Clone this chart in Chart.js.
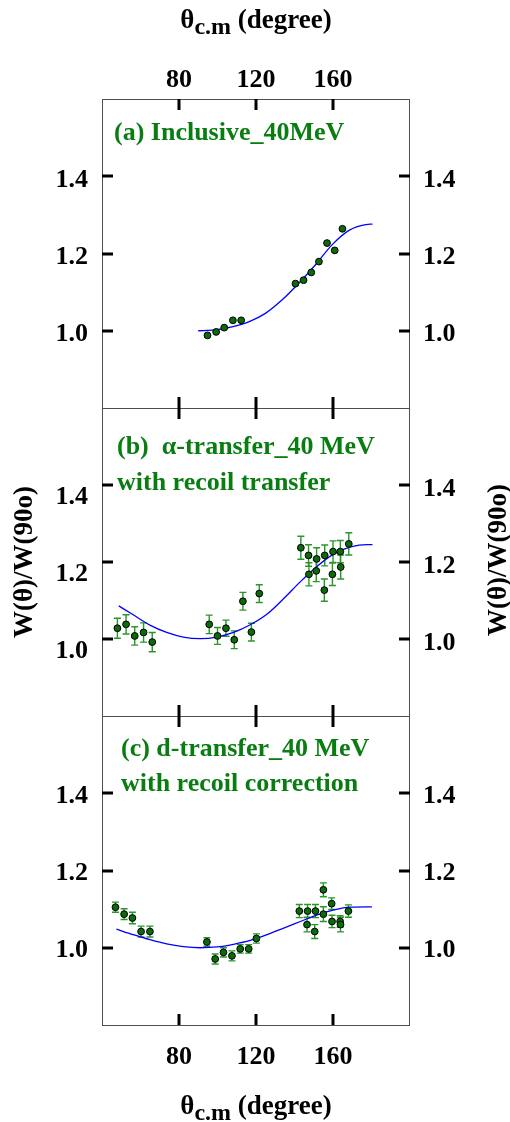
<!DOCTYPE html>
<html>
<head>
<meta charset="utf-8">
<script src="https://cdn.jsdelivr.net/npm/chart.js@4.4.1/dist/chart.umd.min.js"></script>
<style>
  html, body { margin: 0; padding: 0; background: #fff; }
  #wrap { position: relative; width: 510px; height: 1122px; overflow: hidden; }
  #wrap canvas { position: absolute; left: 0; top: 0; }
</style>
</head>
<body>
<div id="wrap">
  <canvas id="c1" width="510" height="1122"></canvas>
  <canvas id="c2" width="510" height="1122"></canvas>
  <canvas id="c3" width="510" height="1122"></canvas>
</div>
<script>
// ---------------- data ----------------
const xTicks = [80, 120, 160];
const yTicks = [1.0, 1.2, 1.4];

// (a) Inclusive_40MeV
const aAngles = [94.8, 99.3, 103.5, 108.0, 112.3, 140.5, 144.7, 148.7, 152.7, 156.9, 160.9, 164.9];
const aValues = [0.988, 0.997, 1.008, 1.027, 1.027, 1.122, 1.131, 1.151, 1.179, 1.227, 1.208, 1.264];
const aFitAngles = [90, 98.8, 107.5, 116.2, 124.9, 133.6, 142.2, 150.9, 159.6, 168.3, 177, 180.5];
const aFitValues = [1.000, 1.002, 1.010, 1.023, 1.045, 1.080, 1.123, 1.171, 1.223, 1.260, 1.275, 1.276];

// (b) alpha-transfer_40 MeV
const bAngles = [48.0, 52.5, 57.0, 61.6, 66.1, 95.7, 100.0, 104.4, 108.7, 113.2, 117.6, 121.7,
                 143.3, 147.3, 147.5, 151.5, 151.3, 155.7, 155.5, 160.0, 159.7, 163.8, 164.0, 168.2];
const bValues = [1.028, 1.038, 1.008, 1.017, 0.992, 1.038, 1.008, 1.028, 0.998, 1.098, 1.018, 1.118,
                 1.237, 1.217, 1.168, 1.208, 1.177, 1.217, 1.127, 1.227, 1.168, 1.227, 1.187, 1.247];
const bErrors = [0.026, 0.025, 0.024, 0.025, 0.025, 0.024, 0.022, 0.021, 0.023, 0.023, 0.023, 0.023,
                 0.030, 0.028, 0.030, 0.029, 0.028, 0.027, 0.029, 0.028, 0.029, 0.029, 0.031, 0.029];
const bFitAngles = [48.7, 56.2, 64.9, 73.6, 82.2, 91, 99.7, 108.3, 117, 125.8, 134.4, 143.1, 151.8, 160.5, 169.2, 177.9, 180.5];
const bFitValues = [1.086, 1.063, 1.036, 1.017, 1.005, 1.001, 1.005, 1.017, 1.037, 1.065, 1.105, 1.149, 1.189, 1.221, 1.239, 1.245, 1.245];

// (c) d-transfer_40 MeV
const cAngles = [47.0, 51.5, 55.8, 60.3, 64.9, 94.5, 98.8, 103.1, 107.5, 111.8, 116.2, 120.2,
                 142.5, 146.8, 146.5, 150.9, 150.5, 155.0, 155.0, 159.3, 159.5, 163.7, 163.9, 168.0];
const cValues = [1.105, 1.087, 1.077, 1.042, 1.042, 1.015, 0.971, 0.988, 0.979, 0.997, 0.997, 1.024,
                 1.095, 1.095, 1.060, 1.095, 1.042, 1.150, 1.087, 1.114, 1.068, 1.068, 1.060, 1.095];
const cErrors = [0.013, 0.014, 0.015, 0.014, 0.014, 0.011, 0.013, 0.012, 0.013, 0.011, 0.011, 0.012,
                 0.017, 0.017, 0.019, 0.017, 0.018, 0.018, 0.019, 0.015, 0.016, 0.015, 0.019, 0.016];
const cFitAngles = [47.5, 56.2, 64.9, 73.6, 82.2, 91, 99.7, 108.3, 117, 125.8, 134.4, 143.1, 151.8, 160.5, 169.2, 180.2];
const cFitValues = [1.048, 1.034, 1.021, 1.010, 1.003, 1.000, 1.002, 1.009, 1.019, 1.034, 1.051, 1.068, 1.085, 1.098, 1.105, 1.106];

const panelLabels = {
  a: ['(a) Inclusive_40MeV'],
  b: ['(b)  \u03b1-transfer_40 MeV', 'with recoil transfer'],
  c: ['(c) d-transfer_40 MeV', 'with recoil correction']
};
const yTitle = 'W(\u03b8)/W(90o)';

// ---------------- styles ----------------
const FAM = '"Liberation Serif", "Times New Roman", serif';
const tickFont = { family: FAM, size: 26, weight: 'bold' };
const GREEN_TXT = '#0a7d12';
const PT_FILL = '#0b6b0b';
const ERR_COL = '#2a962a';

Chart.defaults.font.family = FAM;

const zip = (xs, ys) => xs.map((x, i) => ({ x, y: ys[i] }));

const deco = {
  id: 'deco',
  beforeDatasetsDraw(chart, args, o) {
    if (!o.errors) return;
    const { ctx } = chart;
    const xs = chart.scales.x, ys = chart.scales.y;
    const ds = chart.data.datasets[0];
    ctx.save();
    ctx.strokeStyle = ERR_COL;
    ctx.lineWidth = 1.4;
    ds.data.forEach((p, i) => {
      const e = o.errors[i];
      const px = xs.getPixelForValue(p.x);
      const y1 = ys.getPixelForValue(p.y + e);
      const y2 = ys.getPixelForValue(p.y - e);
      ctx.beginPath();
      ctx.moveTo(px, y1); ctx.lineTo(px, y2);
      ctx.moveTo(px - 3.5, y1); ctx.lineTo(px + 3.5, y1);
      ctx.moveTo(px - 3.5, y2); ctx.lineTo(px + 3.5, y2);
      ctx.stroke();
    });
    ctx.restore();
  },
  afterDraw(chart, args, o) {
    const { ctx, chartArea: a } = chart;
    const xs = chart.scales.x, ys = chart.scales.y;
    ctx.save();
    // frame
    ctx.strokeStyle = '#505050';
    ctx.lineWidth = 1;
    ctx.strokeRect(a.left + 0.5, a.top + 0.5, a.right - a.left - 1, a.bottom - a.top);
    // inward tick marks
    ctx.strokeStyle = '#000';
    ctx.lineWidth = 3;
    const L = 11;
    ctx.beginPath();
    xTicks.forEach(v => {
      const px = Math.round(xs.getPixelForValue(v));
      ctx.moveTo(px, a.top); ctx.lineTo(px, a.top + L);
      ctx.moveTo(px, a.bottom); ctx.lineTo(px, a.bottom - L);
    });
    yTicks.forEach(v => {
      const py = Math.round(ys.getPixelForValue(v));
      ctx.moveTo(a.left, py); ctx.lineTo(a.left + L, py);
      ctx.moveTo(a.right, py); ctx.lineTo(a.right - L, py);
    });
    ctx.stroke();
    // panel label
    ctx.fillStyle = GREEN_TXT;
    ctx.font = 'bold 26px ' + FAM;
    ctx.textAlign = 'left';
    ctx.textBaseline = 'alphabetic';
    (o.label || []).forEach((t, i) => {
      ctx.fillText(t, o.labelX, o.labelY + i * o.labelGap);
    });
    // x axis title with subscript
    if (o.xTitleY) {
      ctx.fillStyle = '#000';
      const mainF = 'bold 27px ' + FAM, subF = 'bold 24px ' + FAM;
      ctx.font = mainF; const w1 = ctx.measureText('\u03b8').width;
      ctx.font = subF; const w2 = ctx.measureText('c.m').width;
      ctx.font = mainF; const w3 = ctx.measureText(' (degree)').width;
      let x = 256 - (w1 + w2 + w3) / 2;
      ctx.font = mainF; ctx.fillText('\u03b8', x, o.xTitleY); x += w1;
      ctx.font = subF; ctx.fillText('c.m', x, o.xTitleY + 6); x += w2;
      ctx.font = mainF; ctx.fillText(' (degree)', x, o.xTitleY);
    }
    // y axis titles (rotated, reading upward)
    if (o.yTitle) {
      ctx.fillStyle = '#000';
      ctx.font = 'bold 27px ' + FAM;
      ctx.textAlign = 'center';
      [[o.yTitleLX, 562], [o.yTitleRX, 560]].forEach(([tx, ty]) => {
        ctx.save();
        ctx.translate(tx, ty);
        ctx.rotate(-Math.PI / 2);
        ctx.fillText(o.yTitle, 0, 0);
        ctx.restore();
      });
    }
    ctx.restore();
  }
};

function yAxis(pos, labelOffset) {
  return {
    type: 'linear', position: pos, min: 0.8, max: 1.6,
    afterBuildTicks: s => { s.ticks = yTicks.map(v => ({ value: v })); },
    afterFit: s => { s.width = pos === 'left' ? 102 : 100; },
    grid: { display: false, drawTicks: false }, border: { display: false },
    ticks: { padding: pos === 'left' ? 14 : 13, labelOffset: labelOffset, font: tickFont, color: '#000',
             callback: v => Number(v).toFixed(1) }
  };
}
function xAxis(display, pos, pad) {
  return {
    type: 'linear', position: pos, display, min: 40, max: 200,
    afterBuildTicks: s => { s.ticks = xTicks.map(v => ({ value: v })); },
    afterFit: s => { if (display) s.height = pos === 'top' ? 99 : 97; else s.height = 0; },
    grid: { display: false, drawTicks: false }, border: { display: false },
    ticks: { padding: pad, font: tickFont, color: '#000', maxRotation: 0, autoSkip: false,
             callback: v => String(v) }
  };
}

function makeChart(id, pts, fit, padTop, padBottom, x, yLeftOffset, yRightOffset, decoOpts) {
  return new Chart(document.getElementById(id), {
    type: 'scatter',
    data: {
      datasets: [
        { data: pts, pointRadius: 3.4, pointBackgroundColor: PT_FILL, pointBorderColor: '#000',
          pointBorderWidth: 1, showLine: false },
        { type: 'line', data: fit, borderColor: '#0000ff', borderWidth: 1.3, pointRadius: 0,
          cubicInterpolationMode: 'monotone', fill: false }
      ]
    },
    options: {
      responsive: false, animation: false, devicePixelRatio: 1,
      layout: { padding: { top: padTop, bottom: padBottom, left: 0, right: 0 } },
      plugins: { legend: { display: false }, tooltip: { enabled: false }, deco: decoOpts },
      scales: { x, y: yAxis('left', yLeftOffset), y2: yAxis('right', yRightOffset) }
    },
    plugins: [deco]
  });
}

makeChart('c1', zip(aAngles, aValues), zip(aFitAngles, aFitValues), 0, 1122 - 408,
  xAxis(true, 'top', 3), 4, 4,
  { label: panelLabels.a, labelX: 114, labelY: 140, labelGap: 36, xTitleY: 28 });

makeChart('c2', zip(bAngles, bValues), zip(bFitAngles, bFitValues), 408, 1122 - 716,
  xAxis(false, 'bottom', 0), 12, 4,
  { errors: bErrors, label: panelLabels.b, labelX: 117, labelY: 454, labelGap: 36,
    yTitle, yTitleLX: 32, yTitleRX: 506 });

makeChart('c3', zip(cAngles, cValues), zip(cFitAngles, cFitValues), 716, 0,
  xAxis(true, 'bottom', 17), 3, 3,
  { errors: cErrors, label: panelLabels.c, labelX: 121, labelY: 756, labelGap: 35, xTitleY: 1114 });
</script>
</body>
</html>
